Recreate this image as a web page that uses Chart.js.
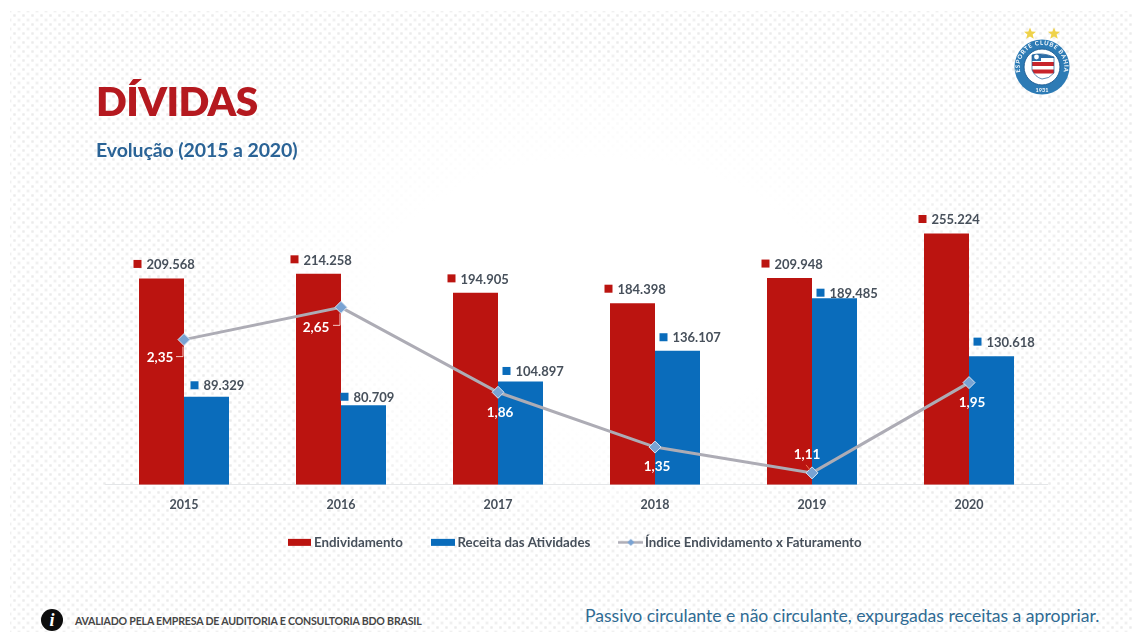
<!DOCTYPE html>
<html lang="pt-BR">
<head>
<meta charset="utf-8">
<title>Dívidas</title>
<script src="https://cdn.jsdelivr.net/npm/chart.js@4"></script>
<style>
  html, body { margin: 0; padding: 0; background: #fff; }
  body { position: relative; width: 1133px; height: 636px; overflow: hidden; font-family: Lato, "Noto Sans", sans-serif; }
  #panel {
    position: absolute; left: 10px; top: 11px; right: 0; bottom: 4px;
    background-color: #fff;
    background-image:
      radial-gradient(circle, #ebebeb 0, #f0f0f0 1.1px, rgba(255,255,255,0) 2px),
      radial-gradient(circle, #ebebeb 0, #f0f0f0 1.1px, rgba(255,255,255,0) 2px);
    background-size: 9px 9px;
    background-position: 0 0, 4.5px 4.5px;
  }
  #fade {
    position: absolute; left: 10px; top: 11px; right: 0; bottom: 4px;
    background: radial-gradient(ellipse 400px 240px at 590px 280px, #fff 0, #fff 55%, rgba(255,255,255,.55) 80%, rgba(255,255,255,0) 100%);
  }
  #chart { position: absolute; left: 0; top: 0; }
  .txt { position: absolute; white-space: nowrap; }
  #title { left: 96px; top: 73px; font-size: 40.5px; line-height: 56px; font-weight: 800; color: #b5191f; letter-spacing: -.6px; }
  #subtitle { left: 96px; top: 137px; font-size: 19.5px; line-height: 26px; font-weight: 700; color: #2a6396; letter-spacing: -.1px; }
  #audit { left: 75px; top: 614px; font-size: 10.6px; line-height: 14px; font-weight: 700; color: #464646; letter-spacing: -.19px; }
  #note { left: 585px; top: 605px; font-size: 17.57px; line-height: 22px; font-weight: 400; color: #2f6b93; }
  #info {
    position: absolute; left: 41px; top: 609px; width: 22px; height: 22px; border-radius: 50%;
    background: #0c0c0c; color: #fff; text-align: center;
    font: italic 700 18px/22px "Liberation Serif", serif;
  }
  #crest { position: absolute; left: 1005px; top: 20px; }
</style>
</head>
<body>
<div id="panel"></div>
<div id="fade"></div>
<canvas id="chart" width="1133" height="576"></canvas>

<div id="title" class="txt">DÍVIDAS</div>
<div id="subtitle" class="txt">Evolução (2015 a 2020)</div>
<div id="info">i</div>
<div id="audit" class="txt">AVALIADO PELA EMPRESA DE AUDITORIA E CONSULTORIA BDO BRASIL</div>
<div id="note" class="txt">Passivo circulante e não circulante, expurgadas receitas a apropriar.</div>

<!-- Club crest: two stars over a round badge with the flag shield -->
<svg id="crest" width="70" height="80" viewBox="0 0 70 80">
  <defs>
    <path id="ringTop" d="M 19 60 A 22.2 22.2 0 1 1 55 60"/>
    <clipPath id="flagClip"><path d="M 27 35 Q 37 32 49 37 L 49 53 Q 44 59 37 59 Q 30 57 27 50 Z"/></clipPath>
  </defs>
  <polygon fill="#efd24a" points="25,7.5 26.6,11.6 31,11.8 27.6,14.6 28.8,18.8 25,16.4 21.2,18.8 22.4,14.6 19,11.8 23.4,11.6"/>
  <polygon fill="#efd24a" points="49,7.5 50.6,11.6 55,11.8 51.6,14.6 52.8,18.8 49,16.4 45.2,18.8 46.4,14.6 43,11.8 47.4,11.6"/>
  <circle cx="37" cy="47" r="27.5" fill="#2d7bb5"/>
  <circle cx="37" cy="47" r="18" fill="#fff"/>
  <circle cx="37" cy="47" r="18" fill="none" stroke="#1f5f96" stroke-width="1"/>
  <text font-family="Lato, sans-serif" font-weight="700" font-size="6" fill="#fff" letter-spacing=".7">
    <textPath href="#ringTop" startOffset="50%" text-anchor="middle">ESPORTE CLUBE BAHIA</textPath>
  </text>
  <text x="37" y="71.5" text-anchor="middle" font-family="Lato, sans-serif" font-weight="700" font-size="5.5" fill="#fff">1931</text>
  <g clip-path="url(#flagClip)">
    <rect x="25" y="30" width="28" height="32" fill="#fff"/>
    <rect x="25" y="32" width="28" height="6" fill="#2d6ea8"/>
    <rect x="25" y="42" width="28" height="4" fill="#c8242b"/>
    <rect x="25" y="49.5" width="28" height="4" fill="#c8242b"/>
    <rect x="25" y="30" width="11" height="11" fill="#2d6ea8"/>
  </g>
  <path d="M 27 35 Q 37 32 49 37 L 49 53 Q 44 59 37 59 Q 30 57 27 50 Z" fill="none" stroke="#1f5f96" stroke-width=".7"/>
  <circle cx="31.5" cy="37" r="2.4" fill="#fff"/>
</svg>

<script>
// Series shown in the chart
const years = ['2015', '2016', '2017', '2018', '2019', '2020'];
const endividamento = [209568, 214258, 194905, 184398, 209948, 255224];
const receitaAtividades = [89329, 80709, 104897, 136107, 189485, 130618];
const indiceEndividamento = [2.35, 2.65, 1.86, 1.35, 1.11, 1.95];
const seriesNames = ['Endividamento', 'Receita das Atividades', 'Índice Endividamento x Faturamento'];

const RED = '#bb1410', BLUE = '#0a6cbb', GREY = '#adacb5', DIAMOND = '#79a3d3', INK = '#47505b';
const LABEL_FONT = '700 13px Lato, "Noto Sans", sans-serif';

// Nudges (dx from bar centre to key square, dy from bar top to label middle)
const redLabelNudge = [[-24, -14], [-24, -14], [-24, -14], [-24, -14], [-24, -14], [-24, -14]];
const blueLabelNudge = [[-12, -11], [-19, -8], [-14, -10], [-14, -13], [-14, -5], [-14, -14]];
// Index labels sit away from the markers; some have a short leader line
const indexLabelNudge = [[-24, 18], [-25, 20], [2, 20], [2, 20], [-5, -18], [3, 20]];
const indexLeaders = [
  { color: '#f4c9c4', pts: [[-1, 7], [-1, 17], [-8, 17]] },
  { color: '#f4c9c4', pts: [[-1, 6], [-1, 18], [-8, 18]] },
  null,
  null,
  { color: '#e8744c', pts: [[-6, -8], [-2, -3]] },
  null
];

const thousands = v => String(v).replace(/\B(?=(\d{3})+$)/g, '.');
const decimal = v => v.toFixed(2).replace('.', ',');

// Legend keys: flat bars plus a line with a small diamond
function legendKey(color, width, height, withDiamond) {
  const c = document.createElement('canvas');
  c.width = width;
  c.height = 9;
  const g = c.getContext('2d');
  g.fillStyle = color;
  g.fillRect(0, (9 - height) / 2, width, height);
  if (withDiamond) {
    g.fillStyle = DIAMOND;
    g.beginPath();
    g.moveTo(width / 2, 1); g.lineTo(width / 2 + 3.5, 4.5);
    g.lineTo(width / 2, 8); g.lineTo(width / 2 - 3.5, 4.5);
    g.closePath();
    g.fill();
  }
  return c;
}
const legendKeys = [legendKey(RED, 23, 7), legendKey(BLUE, 24, 7), legendKey(GREY, 25, 2.5, true)];

// The legend's item gap also spaces it from the axis, so it is pulled closer afterwards
const legendPlacement = {
  id: 'legendPlacement',
  afterLayout(chart) {
    chart.legend.top -= 17;
    chart.legend.bottom -= 17;
    chart.legend.left += 0.5;
    chart.legend.right += 0.5;
  }
};

// Value labels: coloured key square + amount over each bar, white index next to each marker
const valueLabels = {
  id: 'valueLabels',
  afterDatasetsDraw(chart) {
    const { ctx } = chart;
    ctx.save();
    ctx.font = LABEL_FONT;
    ctx.textBaseline = 'middle';
    ctx.textAlign = 'left';
    [[0, RED, redLabelNudge, endividamento], [1, BLUE, blueLabelNudge, receitaAtividades]].forEach(([ds, color, nudge, values]) => {
      chart.getDatasetMeta(ds).data.forEach((bar, i) => {
        const x = bar.x + nudge[i][0];
        const y = bar.y + nudge[i][1];
        ctx.fillStyle = color;
        ctx.fillRect(x - 4, y - 4.5, 8, 8);
        ctx.fillStyle = INK;
        ctx.fillText(thousands(values[i]), x + 9, y + 0.5);
      });
    });
    ctx.textAlign = 'center';
    chart.getDatasetMeta(2).data.forEach((pt, i) => {
      const leader = indexLeaders[i];
      if (leader) {
        ctx.strokeStyle = leader.color;
        ctx.lineWidth = 1;
        ctx.beginPath();
        leader.pts.forEach(([dx, dy], k) => {
          k ? ctx.lineTo(pt.x + dx, pt.y + dy) : ctx.moveTo(pt.x + dx, pt.y + dy);
        });
        ctx.stroke();
      }
      ctx.fillStyle = '#ffffff';
      ctx.font = '700 13.5px Lato, "Noto Sans", sans-serif';
      ctx.fillText(decimal(indiceEndividamento[i]), pt.x + indexLabelNudge[i][0], pt.y + indexLabelNudge[i][1]);
    });
    ctx.restore();
  }
};

new Chart(document.getElementById('chart'), {
  type: 'bar',
  plugins: [legendPlacement, valueLabels],
  data: {
    labels: years,
    datasets: [
      { label: seriesNames[0], data: endividamento, backgroundColor: RED, yAxisID: 'y', order: 1,
        categoryPercentage: 90 / 157, barPercentage: 1 },
      { label: seriesNames[1], data: receitaAtividades, backgroundColor: BLUE, yAxisID: 'y', order: 1,
        categoryPercentage: 90 / 157, barPercentage: 1 },
      { type: 'line', label: seriesNames[2], data: indiceEndividamento, yAxisID: 'y2', order: 0,
        borderColor: GREY, borderWidth: 3, tension: 0,
        pointStyle: 'rectRot', pointRadius: 6, pointBackgroundColor: DIAMOND,
        pointBorderColor: '#d5e2f1', pointBorderWidth: 1 }
    ]
  },
  options: {
    responsive: false,
    animation: false,
    layout: { padding: { left: 105.5, right: 85.5, top: 216, bottom: 0 } },
    events: [],
    scales: {
      x: {
        grid: { display: false },
        border: { display: true, color: '#e4e6e8', width: 1 },
        ticks: { color: INK, font: { family: 'Lato, "Noto Sans", sans-serif', size: 12.5, weight: '700' }, padding: 4.5, maxRotation: 0 },
        afterFit(scale) { scale.height = 35; }
      },
      y: { display: false, min: 0, max: 273000 },
      y2: { display: false, min: 1, max: 3.5 }
    },
    plugins: {
      tooltip: { enabled: false },
      legend: {
        position: 'bottom',
        fullSize: false,
        labels: {
          usePointStyle: true,
          pointStyleWidth: 15,
          padding: 33,
          color: INK,
          font: { family: 'Lato, "Noto Sans", sans-serif', size: 13.3, weight: '700' },
          generateLabels: chart => chart.data.datasets.map((ds, i) => ({
            text: ds.label,
            datasetIndex: i,
            pointStyle: legendKeys[i],
            fontColor: INK,
            lineWidth: 0,
            hidden: false
          }))
        }
      }
    }
  }
});
</script>
</body>
</html>
